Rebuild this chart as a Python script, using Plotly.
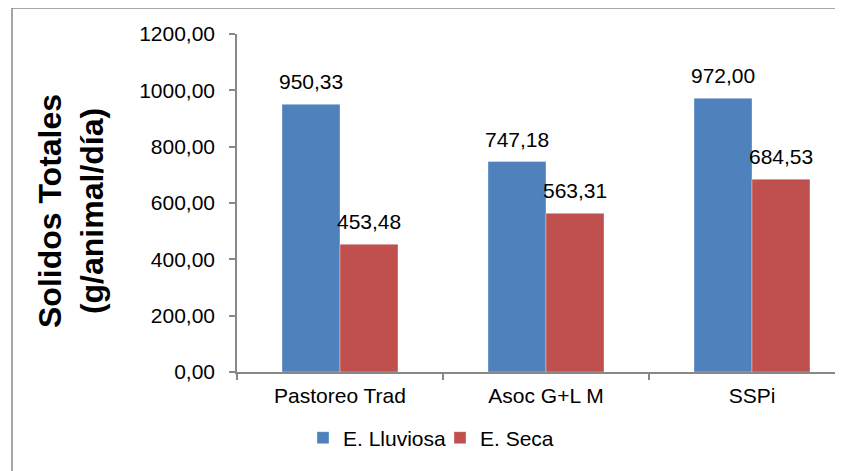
import plotly.graph_objects as go

categories = ["Pastoreo Trad", "Asoc G+L M", "SSPi"]
lluviosa = [950.33, 747.18, 972.00]
seca = [453.48, 563.31, 684.53]
series_names = ["E. Lluviosa", "E. Seca"]
colors = ["#4F81BD", "#C0504D"]

OFF = 8  # page body margin
W, H = 843 - OFF, 471 - OFF
PL, PT, PAX = 237, 34, 372  # page coords: plot left, 1200 line, zero line
L, T = PL - OFF, PT - OFF
B = H - (PAX - OFF)
plot_w = W - L
plot_h = H - T - B

BARGAP = 0.437
half = (1 - BARGAP) / 4

FONT = "Liberation Sans, Arial"

fig = go.Figure()
for name, vals, col in zip(series_names, [lluviosa, seca], colors):
    fig.add_trace(go.Bar(
        x=categories, y=vals, name=name,
        marker=dict(color=col, line=dict(color="rgba(255,255,255,0.35)", width=1)),
        hoverinfo="skip",
    ))

def fmt(v):
    return f"{v:.2f}".replace(".", ",")

annotations = []
for i in range(len(categories)):
    for k, vals in enumerate([lluviosa, seca]):
        annotations.append(dict(
            x=i + (-half if k == 0 else half), y=vals[i], xref="x", yref="y",
            text=fmt(vals[i]), showarrow=False, yanchor="bottom", xanchor="center",
            yshift=9, font=dict(size=21, color="#000000", family=FONT),
        ))

annotations.append(dict(
    x=(71 - PL) / plot_w, y=(PAX - 211) / plot_h, xref="paper", yref="paper",
    text="<b>Solidos Totales<br>(g/animal/día)</b>", textangle=-90, showarrow=False,
    xanchor="center", yanchor="middle",
    font=dict(size=32, color="#000000", family=FONT),
))

fx0 = (12 - PL) / plot_w
fy_top = (PAX - 8) / plot_h
fy_bot = (PAX - 480) / plot_h
shapes = [
    dict(type="line", xref="paper", yref="paper", x0=fx0, x1=fx0, y0=fy_bot, y1=fy_top,
         line=dict(color="#888888", width=1.5)),
    dict(type="line", xref="paper", yref="paper", x0=fx0, x1=1.2, y0=fy_top, y1=fy_top,
         line=dict(color="#888888", width=1.5)),
]

fig.update_layout(
    width=W, height=H,
    margin=dict(l=L, r=0, t=T, b=B, pad=0),
    paper_bgcolor="white", plot_bgcolor="white",
    barmode="group", bargap=BARGAP, bargroupgap=0,
    separators=",.",
    font=dict(family=FONT, size=21, color="#000000"),
    showlegend=True,
    legend=dict(orientation="h", xref="container", yref="container",
                x=(440 - OFF) / W, y=1 - (438 - OFF) / H, xanchor="center", yanchor="middle",
                font=dict(size=21), itemwidth=30, entrywidth=92, entrywidthmode="pixels",
                bgcolor="rgba(0,0,0,0)"),
    annotations=annotations,
    shapes=shapes,
)

fig.update_xaxes(
    type="category", range=[-0.5, 2.5 - 12 / 206],
    showline=True, linecolor="#888888", linewidth=1.5,
    ticks="outside", tickson="boundaries", ticklen=6, tickcolor="#888888", tickwidth=1.5,
    ticklabelstandoff=4,
    showgrid=False, zeroline=False, tickfont=dict(size=21),
    fixedrange=True,
)
fig.update_yaxes(
    range=[0, 1200], dtick=200, tickformat=".2f",
    showline=True, linecolor="#888888", linewidth=1.5,
    ticks="outside", ticklen=6, tickcolor="#888888", tickwidth=1.5,
    ticklabelstandoff=10,
    showgrid=False, zeroline=False, tickfont=dict(size=21),
    fixedrange=True,
)

fig.write_html("out.html")
